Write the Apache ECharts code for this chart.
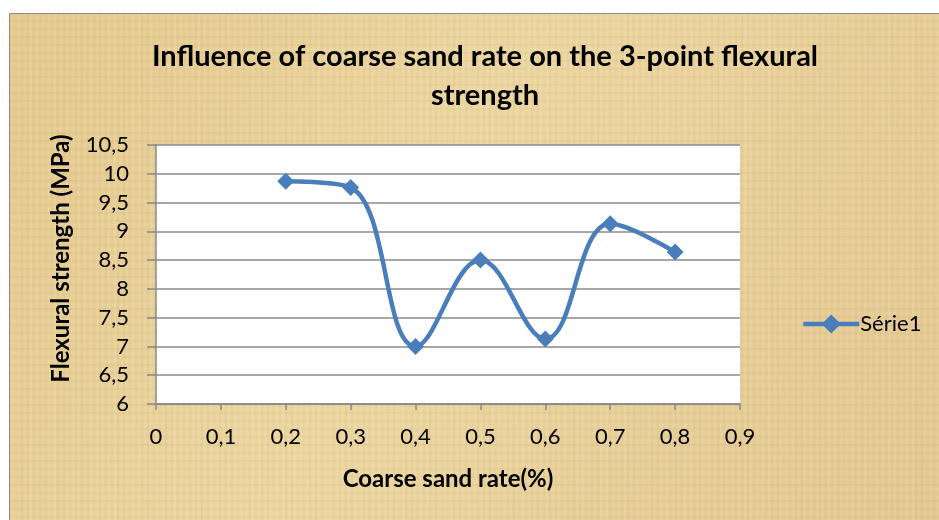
<!DOCTYPE html>
<html>
<head>
<meta charset="utf-8">
<script src="https://cdn.jsdelivr.net/npm/echarts@6/dist/echarts.min.js"></script>
<style>
  html, body { margin: 0; padding: 0; background: #fff; }
  #chart { width: 939px; height: 520px; }
</style>
</head>
<body>
<div id="chart"></div>
<script>
// data
const sandRate = [0.2, 0.3, 0.4, 0.5, 0.6, 0.7, 0.8];
const flexStrength = [9.87, 9.76, 7.0, 8.5, 7.13, 9.13, 8.64];
const seriesName = "Série1";

const fmt = (v) => String(Math.round(v * 10) / 10).replace(".", ",");
const font = "Lato, 'Open Sans', sans-serif";

// papyrus-like background texture (just decoration)
function makePaper() {
  const c = document.createElement("canvas");
  c.width = 940;
  c.height = 520;
  const ctx = c.getContext("2d");
  const g = ctx.createLinearGradient(0, 0, 940, 520);
  g.addColorStop(0, "#e4c98e");
  g.addColorStop(0.45, "#ecd7a3");
  g.addColorStop(1, "#e3c892");
  ctx.fillStyle = g;
  ctx.fillRect(0, 0, 940, 520);
  for (let x = 0; x < 940; x += 3) {
    const a = 0.05 + 0.05 * Math.abs(Math.sin(x * 0.37) * Math.cos(x * 0.11));
    ctx.fillStyle = x % 2 ? "rgba(190,150,80," + a + ")" : "rgba(255,240,200," + a + ")";
    ctx.fillRect(x, 0, 2, 520);
  }
  for (let y = 0; y < 520; y += 4) {
    const a = 0.04 + 0.05 * Math.abs(Math.sin(y * 0.23) * Math.cos(y * 0.07));
    ctx.fillStyle = y % 8 ? "rgba(180,140,70," + a + ")" : "rgba(255,245,210," + a + ")";
    ctx.fillRect(0, y, 940, 2);
  }
  return c;
}

const chart = echarts.init(document.getElementById("chart"));

chart.setOption({
  animation: false,
  textStyle: { fontFamily: font },
  graphic: [
    {
      type: "rect",
      z: -10,
      shape: { x: 9.5, y: 13.5, width: 940, height: 520 },
      style: {
        fill: { image: makePaper(), repeat: "no-repeat" },
        stroke: "#8c8c8c",
        lineWidth: 1,
      },
    },
  ],
  title: {
    text: "Influence of coarse sand rate on the 3-point flexural\nstrength",
    left: 480,
    top: 32,
    textAlign: "center",
    textStyle: {
      fontFamily: font,
      fontSize: 29,
      fontWeight: "bold",
      color: "#000",
      lineHeight: 39,
    },
  },
  legend: {
    data: [seriesName],
    left: 796,
    top: 308,
    itemWidth: 56,
    itemHeight: 24,
    itemGap: 2,
    lineStyle: { width: 4.5, color: "#4a7ebb" },
    textStyle: { fontFamily: font, fontSize: 22, color: "#000", padding: [0, 0, 0, -4] },
  },
  grid: {
    left: 156,
    top: 145,
    right: 199,
    bottom: 116,
    show: true,
    backgroundColor: "#fff",
    borderWidth: 0,
  },
  xAxis: {
    type: "value",
    min: 0,
    max: 0.9,
    interval: 0.1,
    name: "Coarse sand rate(%)",
    nameLocation: "middle",
    nameGap: 63,
    nameTextStyle: { fontFamily: font, fontSize: 24, fontWeight: "bold", color: "#000" },
    axisLine: { show: true, lineStyle: { color: "#888", width: 1.5 } },
    axisTick: { show: true, length: 6, lineStyle: { color: "#888", width: 1.5 } },
    axisLabel: { formatter: fmt, fontSize: 22, color: "#000", margin: 22 },
    splitLine: { show: false },
  },
  yAxis: {
    type: "value",
    min: 6,
    max: 10.5,
    interval: 0.5,
    name: "Flexural strength (MPa)",
    nameLocation: "middle",
    nameRotate: 90,
    nameGap: 83,
    nameTextStyle: {
      fontFamily: font,
      fontSize: 24,
      fontWeight: "bold",
      color: "#000",
      padding: [0, 0, 0, 32],
    },
    axisLine: { show: true, lineStyle: { color: "#888", width: 1.5 } },
    axisTick: { show: true, length: 9, lineStyle: { color: "#888", width: 1.5 } },
    axisLabel: { formatter: fmt, fontSize: 22, color: "#000", margin: 27 },
    splitLine: { show: true, lineStyle: { color: "#8a8a8a", width: 1.5 } },
  },
  series: [
    {
      name: seriesName,
      type: "line",
      data: sandRate.map((x, i) => [x, flexStrength[i]]),
      smooth: 0.4,
      symbol: "diamond",
      symbolSize: 17,
      color: "#4a7ebb",
      lineStyle: { width: 4.5, color: "#4a7ebb" },
      itemStyle: { color: "#4a7ebb" },
    },
  ],
});
</script>
</body>
</html>
